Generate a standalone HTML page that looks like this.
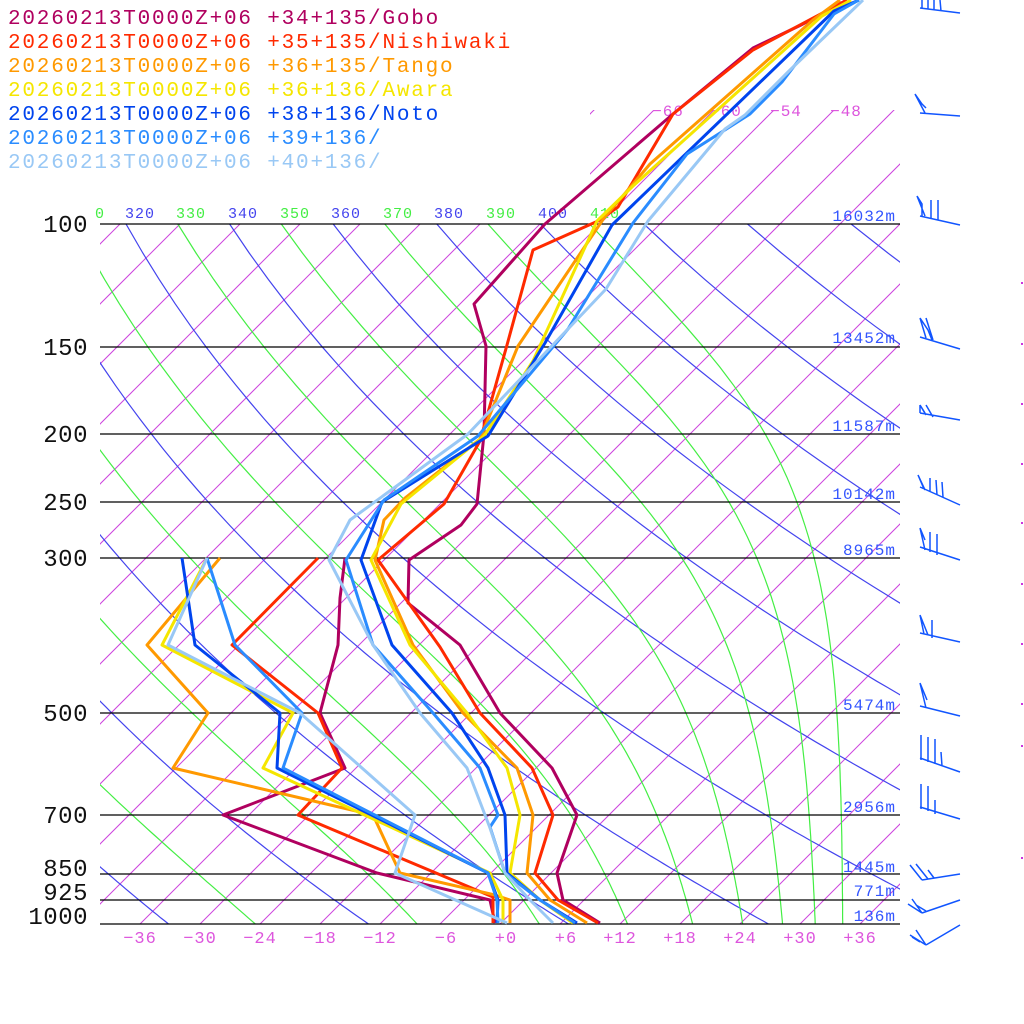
<!DOCTYPE html>
<html><head><meta charset="utf-8"><style>
html,body{margin:0;padding:0;background:#fff}
svg{display:block}
text{font-family:"Liberation Mono","DejaVu Sans Mono",monospace}
</style></head><body>
<svg id="s" width="1024" height="1024" viewBox="0 0 1024 1024" xmlns="http://www.w3.org/2000/svg">
<defs>
<clipPath id="cIso"><rect x="100" y="224" width="800" height="700"/><rect x="590" y="110" width="310" height="114"/></clipPath>
<clipPath id="cMain"><rect x="100" y="224" width="800" height="700"/></clipPath>
</defs>
<g id="iso" clip-path="url(#cIso)" fill="none" stroke="#cc44dd" stroke-width="1"></g>
<g id="dry" clip-path="url(#cMain)" fill="none" stroke="#4444ee" stroke-width="1.2"></g>
<g id="moist" clip-path="url(#cMain)" fill="none" stroke="#44ee44" stroke-width="1.2"></g>
<g stroke="#000" stroke-width="1.3">
<line x1="100" y1="224" x2="900" y2="224"/><line x1="100" y1="347" x2="900" y2="347"/>
<line x1="100" y1="434" x2="900" y2="434"/><line x1="100" y1="502" x2="900" y2="502"/>
<line x1="100" y1="558" x2="900" y2="558"/><line x1="100" y1="713" x2="900" y2="713"/>
<line x1="100" y1="815" x2="900" y2="815"/><line x1="100" y1="874" x2="900" y2="874"/>
<line x1="100" y1="900" x2="900" y2="900"/><line x1="100" y1="924" x2="900" y2="924"/>
</g>
<g font-size="24" fill="#111" text-anchor="end" letter-spacing="0.5">
<text x="88" y="232">100</text><text x="88" y="355">150</text><text x="88" y="442">200</text>
<text x="88" y="510">250</text><text x="88" y="566">300</text><text x="88" y="721">500</text>
<text x="88" y="823">700</text><text x="88" y="876">850</text><text x="88" y="900">925</text>
<text x="88" y="924">1000</text>
</g>
<g font-size="16" fill="#3355ff" text-anchor="end" letter-spacing="1">
<text x="896" y="221">16032m</text><text x="896" y="343">13452m</text><text x="896" y="431">11587m</text>
<text x="896" y="499">10142m</text><text x="896" y="555">8965m</text><text x="896" y="710">5474m</text>
<text x="896" y="812">2956m</text><text x="896" y="872">1445m</text><text x="896" y="896">771m</text>
<text x="896" y="921">136m</text>
</g>
<g font-size="15" text-anchor="middle" letter-spacing="1">
<text x="100" y="218" fill="#44ee44">0</text>
<text x="140" y="218" fill="#4444ee">320</text><text x="191" y="218" fill="#44ee44">330</text>
<text x="243" y="218" fill="#4444ee">340</text><text x="295" y="218" fill="#44ee44">350</text>
<text x="346" y="218" fill="#4444ee">360</text><text x="398" y="218" fill="#44ee44">370</text>
<text x="449" y="218" fill="#4444ee">380</text><text x="501" y="218" fill="#44ee44">390</text>
<text x="553" y="218" fill="#4444ee">400</text><text x="605" y="218" fill="#44ee44">410</text>
</g>
<g font-size="16" fill="#dd55dd" text-anchor="middle" letter-spacing="1">
<text x="668" y="116">−66</text><text x="726" y="116">−60</text><text x="786" y="116">−54</text><text x="846" y="116">−48</text>
</g>
<g font-size="17" fill="#dd55dd" text-anchor="middle" letter-spacing="1">
<text x="140" y="943">−36</text><text x="200" y="943">−30</text><text x="260" y="943">−24</text>
<text x="320" y="943">−18</text><text x="380" y="943">−12</text><text x="446" y="943">−6</text>
<text x="506" y="943">+0</text><text x="566" y="943">+6</text><text x="620" y="943">+12</text>
<text x="680" y="943">+18</text><text x="740" y="943">+24</text><text x="800" y="943">+30</text>
<text x="860" y="943">+36</text>
</g>
<g fill="none" stroke-width="3" stroke-linejoin="round">
<polyline stroke="#b0005f" points="847,0 801,25 753,48 673,114 545,224 474,304 486,346 484,434 477,504 461,525 409,560 408,603 460,645 500,713 552,768 577,815 557,873 563,900 600,923"/>
<polyline stroke="#b0005f" points="345,558 340,598 338,645 320,713 345,768 223,815 377,873 490,900 495,923"/>
<polyline stroke="#ff2a00" points="847,0 753,50 673,114 618,207 598,221 533,250 507,345 480,441 444,504 378,560 440,647 480,713 532,768 553,815 535,873 558,900 598,923"/>
<polyline stroke="#ff2a00" points="318,558 232,645 318,713 342,768 298,815 493,897 493,923"/>
<polyline stroke="#ff9900" points="840,0 813,20 650,164 604,218 518,346 480,439 405,498 384,520 375,560 413,645 463,713 517,768 533,815 527,873 550,900 587,923"/>
<polyline stroke="#ff9900" points="220,558 147,645 208,713 173,768 373,815 400,873 495,895 510,900 510,923"/>
<polyline stroke="#f5e600" points="851,0 822,16 633,186 597,221 533,361 484,436 401,504 371,560 410,645 467,713 507,768 520,815 510,873 540,900 573,923"/>
<polyline stroke="#f5e600" points="207,558 162,645 293,713 263,768 490,873 503,900 503,923"/>
<polyline stroke="#0044ee" points="859,0 834,11 612,225 545,343 488,436 382,502 361,560 392,645 452,713 488,768 505,815 507,873 540,900 577,923"/>
<polyline stroke="#0044ee" points="182,558 195,645 280,713 277,768 488,873 498,900 497,923"/>
<polyline stroke="#2a8cff" points="859,0 834,14 782,82 750,114 687,154 633,223 568,329 478,436 384,500 346,560 373,645 433,713 480,768 498,815 490,827 505,873 540,900 575,923"/>
<polyline stroke="#2a8cff" points="207,558 235,645 302,713 283,768 488,873 497,900 498,923"/>
<polyline stroke="#99c8f5" points="863,0 790,70 745,115 725,129 648,221 606,289 568,329 468,434 350,520 329,560 373,645 420,713 467,768 490,828 505,873 530,900 553,923"/>
<polyline stroke="#99c8f5" points="207,558 168,645 300,713 415,815 395,873 507,923"/>
</g>
<g font-size="21" letter-spacing="1.8">
<text x="8" y="24" fill="#b0005f">20260213T0000Z+06 +34+135/Gobo</text>
<text x="8" y="48" fill="#ff2a00">20260213T0000Z+06 +35+135/Nishiwaki</text>
<text x="8" y="72" fill="#ff9900">20260213T0000Z+06 +36+135/Tango</text>
<text x="8" y="96" fill="#f5e600">20260213T0000Z+06 +36+136/Awara</text>
<text x="8" y="120" fill="#0044ee">20260213T0000Z+06 +38+136/Noto</text>
<text x="8" y="144" fill="#2a8cff">20260213T0000Z+06 +39+136/</text>
<text x="8" y="168" fill="#99c8f5">20260213T0000Z+06 +40+136/</text>
</g>
<g stroke="#1155ff" stroke-width="1.5" fill="none">
<path d="M920,8 L960,13 M922,0 L922,8 M928,0 L928,9 M934,0 L934,10 M940,0 L941,11"/>
<path d="M920,113 L960,116 M915,94 L925,113 M915,94 L922,104 L926,108"/>
<path d="M920,216 L960,225 M917,196 L925,216 M917,196 L922,204 L922,216 M931,200 L931,218 M938,200 L938,220"/>
<path d="M920,337 L960,349 M920,318 L926,338 M920,318 L928,330 L932,340 M926,318 L933,340"/>
<path d="M920,413 L960,420 M920,405 L926,415 M920,405 L925,413 M926,405 L933,417 M920,405 L920,413"/>
<path d="M920,487 L960,505 M918,475 L925,490 M918,475 L924,489 M930,478 L930,492 M936,480 L937,495 M942,482 L943,497"/>
<path d="M920,547 L960,560 M920,528 L925,550 M920,528 L925,540 M930,532 L930,552 M937,534 L937,555"/>
<path d="M920,633 L960,642 M920,615 L924,634 M920,615 L928,635 M932,620 L932,638"/>
<path d="M920,706 L960,716 M920,683 L926,708 M920,683 L927,700"/>
<path d="M920,758 L960,772 M921,735 L921,760 M928,737 L928,762 M935,739 L935,764 M941,752 L942,766"/>
<path d="M920,807 L960,819 M921,784 L921,809 M928,786 L928,811 M935,800 L935,814"/>
<path d="M922,880 L960,874 M922,880 L910,865 M928,879 L916,864 M934,878 L928,870"/>
<path d="M922,913 L960,900 M922,913 L908,904 M922,913 L912,899 M926,911 L916,905"/>
<path d="M926,945 L960,925 M926,945 L910,935 M920,942 L912,937 M926,945 L916,930"/>
</g>
<g fill="#cc33dd">
<rect x="1021" y="282" width="2" height="2"/><rect x="1021" y="343" width="2" height="2"/><rect x="1021" y="403" width="2" height="2"/>
<rect x="1021" y="463" width="2" height="2"/><rect x="1021" y="522" width="2" height="2"/><rect x="1021" y="583" width="2" height="2"/>
<rect x="1021" y="643" width="2" height="2"/><rect x="1021" y="703" width="2" height="2"/><rect x="1021" y="745" width="2" height="2"/>
<rect x="1021" y="857" width="2" height="2"/>
</g>
</svg>
<script>
(function(){
var NS="http://www.w3.org/2000/svg";
function yp(p){return 924-304*Math.log(1000/p);}
function xp(T,p){return 500+10*T+304*Math.log(1000/p);}
function add(g,d){var e=document.createElementNS(NS,"path");e.setAttribute("d",d);document.getElementById(g).appendChild(e);}
var T,p,d,i;
for(T=-120;T<=42;T+=6){
  var pt=68.5;
  d="M"+xp(T,1000).toFixed(1)+","+yp(1000).toFixed(1)+" L"+xp(T,pt).toFixed(1)+","+yp(pt).toFixed(1);
  add("iso",d);
}
function plist(){var a=[];for(var q=1000;q>=99;q-=10)a.push(q);return a;}
var ps=plist();
for(var th=160;th<=520;th+=20){
  d="";
  for(i=0;i<ps.length;i++){p=ps[i];var Tk=th*Math.pow(p/1000,0.2857)-273.15;
    d+=(i?"L":"M")+xp(Tk,p).toFixed(1)+","+yp(p).toFixed(1);}
  add("dry",d);
}
function es(Tc){return 6.112*Math.exp(17.67*Tc/(Tc+243.5));}
function the(Tc,p){var e=es(Tc);var rs=0.622*e/Math.max(p-e,1);var Tk=Tc+273.15;
  return Tk*Math.pow(1000/p,0.2857)*Math.exp(2.5e6*rs/(1004*Tk));}
for(var te=170;te<=410;te+=20){
  d="";
  for(i=0;i<ps.length;i++){p=ps[i];var lo=-150,hi=60;
    for(var k=0;k<50;k++){var m=(lo+hi)/2;if(the(m,p)>te)hi=m;else lo=m;}
    d+=(i?"L":"M")+xp((lo+hi)/2,p).toFixed(1)+","+yp(p).toFixed(1);}
  add("moist",d);
}
})();
</script>
</body></html>
